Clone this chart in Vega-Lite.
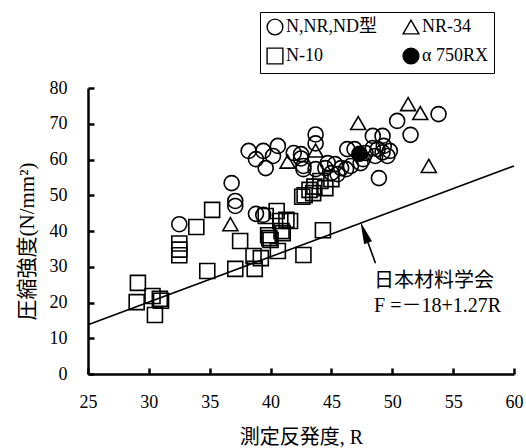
{
  "$schema": "https://vega.github.io/schema/vega-lite/v6.json",
  "width": 426,
  "height": 286,
  "autosize": {"type": "none"},
  "padding": {"left": 88, "top": 88, "right": 12, "bottom": 74},
  "background": "white",
  "config": {
    "view": {"stroke": null},
    "font": "Liberation Serif, Noto Sans CJK JP"
  },
  "datasets": {
    "tests": [
      {"series": "N-10", "R": 29.1, "F": 25.5},
      {"series": "N-10", "R": 29.0, "F": 20.1},
      {"series": "N-10", "R": 30.5, "F": 16.5},
      {"series": "N-10", "R": 30.9, "F": 21.0},
      {"series": "N-10", "R": 30.3, "F": 21.8},
      {"series": "N-10", "R": 31.0, "F": 20.5},
      {"series": "N-10", "R": 32.5, "F": 36.5},
      {"series": "N-10", "R": 32.5, "F": 34.8},
      {"series": "N-10", "R": 32.5, "F": 33.2},
      {"series": "N-10", "R": 33.9, "F": 41.1},
      {"series": "N-10", "R": 35.2, "F": 45.9},
      {"series": "N-10", "R": 34.8, "F": 28.8},
      {"series": "N-10", "R": 37.1, "F": 29.4},
      {"series": "N-10", "R": 38.7, "F": 29.4},
      {"series": "N-10", "R": 38.6, "F": 33.0},
      {"series": "N-10", "R": 39.2, "F": 32.4},
      {"series": "N-10", "R": 37.5, "F": 37.2},
      {"series": "N-10", "R": 39.9, "F": 38.0},
      {"series": "N-10", "R": 39.8, "F": 38.8},
      {"series": "N-10", "R": 40.0, "F": 37.5},
      {"series": "N-10", "R": 40.9, "F": 40.0},
      {"series": "N-10", "R": 40.6, "F": 34.4},
      {"series": "N-10", "R": 42.7, "F": 33.3},
      {"series": "N-10", "R": 44.3, "F": 40.2},
      {"series": "N-10", "R": 40.8, "F": 42.8},
      {"series": "N-10", "R": 41.6, "F": 42.8},
      {"series": "N-10", "R": 40.5, "F": 45.6},
      {"series": "N-10", "R": 39.6, "F": 44.2},
      {"series": "N-10", "R": 41.3, "F": 43.1},
      {"series": "N-10", "R": 41.0, "F": 39.4},
      {"series": "N-10", "R": 42.8, "F": 50.0},
      {"series": "N-10", "R": 43.2, "F": 51.5},
      {"series": "N-10", "R": 42.6, "F": 49.6},
      {"series": "N-10", "R": 43.6, "F": 52.4},
      {"series": "N-10", "R": 44.5, "F": 52.0},
      {"series": "N-10", "R": 44.1, "F": 54.0},
      {"series": "N-10", "R": 43.5, "F": 50.6},
      {"series": "N-10", "R": 45.0, "F": 54.5},
      {"series": "N,NR,ND型", "R": 32.5, "F": 41.9},
      {"series": "N,NR,ND型", "R": 36.8, "F": 53.4},
      {"series": "N,NR,ND型", "R": 37.1, "F": 48.4},
      {"series": "N,NR,ND型", "R": 37.1, "F": 47.0},
      {"series": "N,NR,ND型", "R": 38.8, "F": 44.8},
      {"series": "N,NR,ND型", "R": 39.4, "F": 44.5},
      {"series": "N,NR,ND型", "R": 38.2, "F": 62.4},
      {"series": "N,NR,ND型", "R": 38.8, "F": 60.1},
      {"series": "N,NR,ND型", "R": 39.4, "F": 62.4},
      {"series": "N,NR,ND型", "R": 39.6, "F": 57.6},
      {"series": "N,NR,ND型", "R": 40.2, "F": 61.0},
      {"series": "N,NR,ND型", "R": 40.6, "F": 63.8},
      {"series": "N,NR,ND型", "R": 41.9, "F": 61.8},
      {"series": "N,NR,ND型", "R": 42.5, "F": 61.5},
      {"series": "N,NR,ND型", "R": 42.7, "F": 58.2},
      {"series": "N,NR,ND型", "R": 42.5, "F": 60.3},
      {"series": "N,NR,ND型", "R": 43.7, "F": 67.0},
      {"series": "N,NR,ND型", "R": 43.7, "F": 64.5},
      {"series": "N,NR,ND型", "R": 48.4, "F": 66.6},
      {"series": "N,NR,ND型", "R": 49.2, "F": 66.6},
      {"series": "N,NR,ND型", "R": 50.4, "F": 70.8},
      {"series": "N,NR,ND型", "R": 53.8, "F": 72.7},
      {"series": "N,NR,ND型", "R": 51.5, "F": 66.9},
      {"series": "N,NR,ND型", "R": 48.9, "F": 54.8},
      {"series": "N,NR,ND型", "R": 46.3, "F": 62.9},
      {"series": "N,NR,ND型", "R": 46.9, "F": 62.9},
      {"series": "N,NR,ND型", "R": 47.8, "F": 61.8},
      {"series": "N,NR,ND型", "R": 48.4, "F": 63.2},
      {"series": "N,NR,ND型", "R": 48.8, "F": 62.9},
      {"series": "N,NR,ND型", "R": 49.3, "F": 63.8},
      {"series": "N,NR,ND型", "R": 49.8, "F": 62.4},
      {"series": "N,NR,ND型", "R": 47.6, "F": 60.1},
      {"series": "N,NR,ND型", "R": 48.6, "F": 61.0},
      {"series": "N,NR,ND型", "R": 49.6, "F": 61.0},
      {"series": "N,NR,ND型", "R": 49.2, "F": 62.0},
      {"series": "N,NR,ND型", "R": 47.4, "F": 59.0},
      {"series": "N,NR,ND型", "R": 42.7, "F": 57.3},
      {"series": "N,NR,ND型", "R": 44.7, "F": 59.0},
      {"series": "N,NR,ND型", "R": 45.3, "F": 58.7},
      {"series": "N,NR,ND型", "R": 45.8, "F": 57.6},
      {"series": "N,NR,ND型", "R": 46.2, "F": 57.3},
      {"series": "N,NR,ND型", "R": 46.6, "F": 58.2},
      {"series": "N,NR,ND型", "R": 45.0, "F": 56.2},
      {"series": "N,NR,ND型", "R": 45.5, "F": 55.9},
      {"series": "N,NR,ND型", "R": 44.5, "F": 57.6},
      {"series": "N,NR,ND型", "R": 43.7, "F": 57.3},
      {"series": "NR-34", "R": 36.7, "F": 41.9},
      {"series": "NR-34", "R": 41.4, "F": 59.4},
      {"series": "NR-34", "R": 43.7, "F": 62.5},
      {"series": "NR-34", "R": 47.2, "F": 70.2},
      {"series": "NR-34", "R": 51.3, "F": 75.5},
      {"series": "NR-34", "R": 52.3, "F": 73.0},
      {"series": "NR-34", "R": 53.0, "F": 58.2},
      {"series": "α 750RX", "R": 47.3, "F": 61.6}
    ],
    "formula": [
      {"R": 25, "F": 13.75},
      {"R": 60, "F": 58.2}
    ],
    "arrowShaft": [
      {"R": 48.62, "F": 31.0, "R2": 47.7, "F2": 39.6}
    ],
    "arrowHead": [
      {"R": 47.7, "F": 39.6}
    ],
    "notes": [
      {"R": 48.5, "F": 26.0, "label": "日本材料学会", "kind": "org"},
      {"R": 48.5, "F": 19.0, "label": "F =－18+1.27R", "kind": "eq"}
    ]
  },
  "encoding": {
    "x": {
      "field": "R", "type": "quantitative",
      "scale": {"domain": [25, 60], "nice": false, "zero": false},
      "axis": {
        "title": "測定反発度, R",
        "values": [25, 30, 35, 40, 45, 50, 55, 60],
        "grid": false,
        "domainColor": "black", "domainWidth": 2.5,
        "tickColor": "black", "tickWidth": 2.5, "tickSize": -6,
        "labelFont": "Liberation Serif", "labelFontSize": 18, "labelColor": "black",
        "labelPadding": 25, "labelFlush": false, "labelOverlap": false,
        "titleFont": "Liberation Serif, Noto Sans CJK JP", "titleFontSize": 20,
        "titleFontWeight": "normal", "titleColor": "black",
        "titleX": 213, "titleY": 63, "titleAlign": "center", "titleBaseline": "middle"
      }
    },
    "y": {
      "field": "F", "type": "quantitative",
      "scale": {"domain": [0, 80], "nice": false},
      "axis": {
        "title": "圧縮強度(N/mm²)",
        "values": [0, 10, 20, 30, 40, 50, 60, 70, 80],
        "grid": false,
        "domainColor": "black", "domainWidth": 2.5,
        "tickColor": "black", "tickWidth": 2.5, "tickSize": -6,
        "labelFont": "Liberation Serif", "labelFontSize": 18, "labelColor": "black",
        "labelPadding": 27, "labelFlush": false, "labelOverlap": false,
        "titleFont": "Liberation Serif, Noto Sans CJK JP", "titleFontSize": 21,
        "titleFontWeight": "normal", "titleColor": "black",
        "titleX": -61, "titleY": 153, "titleAngle": -90,
        "titleAlign": "center", "titleBaseline": "middle"
      }
    }
  },
  "layer": [
    {
      "data": {"name": "tests"},
      "mark": {"type": "point", "strokeWidth": 1.6, "size": 225, "opacity": 1},
      "encoding": {
        "shape": {
          "field": "series", "type": "nominal",
          "scale": {
            "domain": ["N,NR,ND型", "NR-34", "N-10", "α 750RX"],
            "range": ["circle", "triangle-up", "square", "circle"]
          },
          "legend": {
            "title": null, "orient": "none", "legendX": 172, "legendY": -76,
            "direction": "horizontal", "columns": 2, "gridAlign": "none",
            "strokeColor": "black", "padding": 6,
            "columnPadding": 22, "rowPadding": 7,
            "symbolSize": 250, "symbolStrokeWidth": 1.4,
            "labelFont": "Liberation Serif, Noto Sans CJK JP", "labelFontSize": 18,
            "labelColor": "black", "labelOffset": 2
          }
        },
        "fill": {
          "field": "series", "type": "nominal",
          "scale": {
            "domain": ["N,NR,ND型", "NR-34", "N-10", "α 750RX"],
            "range": ["transparent", "transparent", "transparent", "black"]
          }
        },
        "stroke": {
          "field": "series", "type": "nominal",
          "scale": {
            "domain": ["N,NR,ND型", "NR-34", "N-10", "α 750RX"],
            "range": ["black", "black", "black", "black"]
          }
        }
      }
    },
    {
      "data": {"name": "formula"},
      "mark": {"type": "line", "color": "black", "strokeWidth": 1.6}
    },
    {
      "data": {"name": "arrowShaft"},
      "mark": {"type": "rule", "color": "black", "strokeWidth": 1.6},
      "encoding": {
        "x2": {"field": "R2"},
        "y2": {"field": "F2"}
      }
    },
    {
      "data": {"name": "arrowHead"},
      "mark": {"type": "point", "shape": "M0,-1L0.38,1L-0.38,1Z", "filled": true, "color": "black", "opacity": 1, "size": 484, "angle": 340}
    },
    {
      "data": {"name": "notes"},
      "transform": [{"filter": "datum.kind === 'org'"}],
      "mark": {"type": "text", "align": "left", "baseline": "middle", "font": "Noto Sans CJK JP", "fontSize": 20, "color": "black"},
      "encoding": {
        "text": {"field": "label"}
      }
    },
    {
      "data": {"name": "notes"},
      "transform": [{"filter": "datum.kind === 'eq'"}],
      "mark": {"type": "text", "align": "left", "baseline": "middle", "font": "Liberation Serif, Noto Sans CJK JP", "fontSize": 20, "color": "black"},
      "encoding": {
        "text": {"field": "label"}
      }
    }
  ]
}
